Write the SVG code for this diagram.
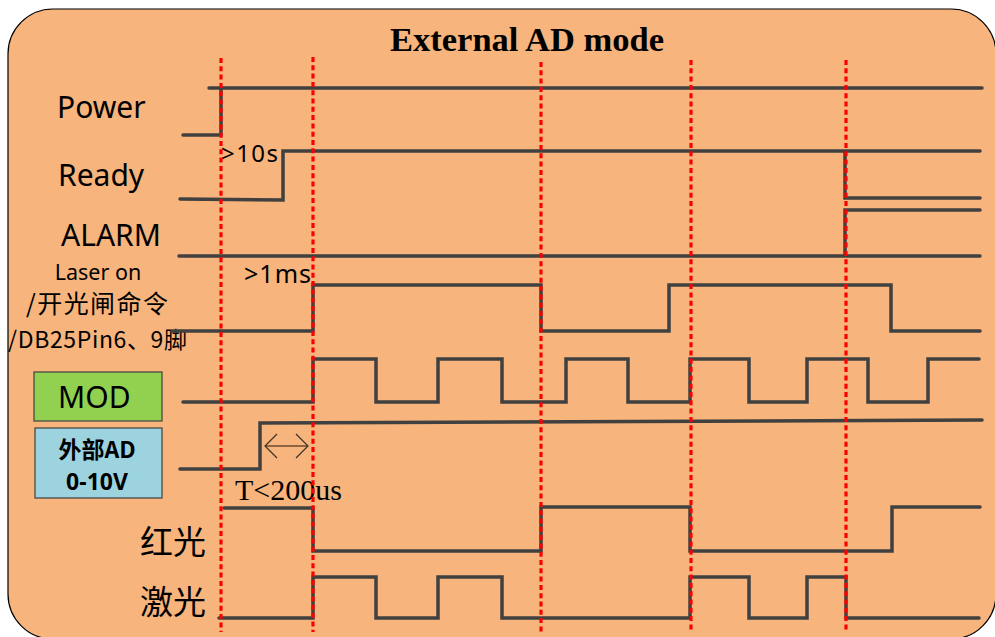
<svg xmlns="http://www.w3.org/2000/svg" width="995" height="637" viewBox="0 0 995 637">
<style>
.sig{fill:none;stroke:#404040;stroke-width:3.5;stroke-linecap:round;stroke-linejoin:miter}
.guide{stroke:#FF0000;stroke-width:3.2;stroke-dasharray:5 3.3}
.lbl{font-family:"Noto Sans","Open Sans",sans-serif;fill:#000}
.cjk{font-family:"Noto Sans CJK SC","Noto Sans",sans-serif;fill:#000}
.box{stroke:#404040;stroke-width:1.2}
</style>
<rect x="8" y="9" width="988" height="630" rx="45" ry="45" fill="#F7B47C" stroke="#000" stroke-width="1.2"/>
<text x="390" y="51" font-family="Liberation Serif,serif" font-weight="bold" font-size="34.5" fill="#000">External AD mode</text>

<g id="labels">
  <text class="lbl" x="57" y="118" font-size="30">Power</text>
  <text class="lbl" x="58" y="186" font-size="30">Ready</text>
  <text class="lbl" x="61" y="246" font-size="30">ALARM</text>
  <text class="lbl" x="98" y="280" font-size="21.5" text-anchor="middle">Laser on</text>
  <text class="cjk" x="26" y="313" font-size="25" textLength="142">/开光闸命令</text>
  <text class="cjk" x="8" y="348" font-size="23" textLength="179">/DB25Pin6、9脚</text>
  <text class="cjk" x="140" y="554" font-size="33">红光</text>
  <text class="cjk" x="140" y="614" font-size="33">激光</text>
</g>

<g id="mod-box">
  <rect class="box" x="34" y="372" width="128" height="49" fill="#92D050"/>
  <text class="lbl" x="58" y="408" font-size="30">MOD</text>
</g>
<g id="ad-box">
  <rect class="box" x="35" y="428" width="127" height="70" fill="#9DD3DF"/>
  <text class="cjk" x="97" y="458" font-size="23" font-weight="bold" text-anchor="middle">外部AD</text>
  <text class="lbl" x="97" y="490" font-size="23" font-weight="bold" text-anchor="middle">0-10V</text>
</g>

<g id="signals">
  <g id="power"><path class="sig" d="M183,135 H221 V88 M209,88 H982"/></g>
  <g id="ready"><path class="sig" d="M180,199 L283,200 V151 H980 M845,151 V198 H980"/></g>
  <g id="alarm"><path class="sig" d="M179,256 H980 M845,256 V210 H980"/></g>
  <g id="laser-on"><path class="sig" d="M172,331 H313 V285 H541 V331 H669 V285 H891 V331 H980"/></g>
  <g id="mod"><path class="sig" d="M183,402 H313 V359 H376 V402 H438 V359 H502 V402 H566 V359 H628 V402 H690 V359 H749 V402 H807 V359 H868 V402 H928 V359 H979"/></g>
  <g id="ext-ad"><path class="sig" d="M180,469 H260 V423 L982,420"/></g>
  <g id="red-light"><path class="sig" d="M224,508 H313 V551 H541 V507 H690 V551 H892 V507 H980"/></g>
  <g id="laser-light"><path class="sig" d="M219,618 H313 V577 H376 V618 H438 V577 H502 V618 H690 V577 H749 V618 H807 V577 H846 V618 H979"/></g>
</g>

<g id="annotations">
  <text class="lbl" x="221" y="162" font-size="24" textLength="57">&gt;10s</text>
  <text class="lbl" x="244" y="283" font-size="25" textLength="67">&gt;1ms</text>
  <path d="M265,446 H308" stroke="#6B4A30" stroke-width="1.5" fill="none"/>
  <path d="M277,434 L265,446 L277,458 M296,434 L308,446 L296,458" stroke="#3A3028" stroke-width="1.2" fill="none"/>
  <text x="235" y="500" font-family="Liberation Serif,serif" font-size="30" fill="#000">T&lt;200us</text>
</g>

<g id="guides">
  <line class="guide" x1="221" y1="58" x2="221" y2="632"/>
  <line class="guide" x1="313" y1="57" x2="313" y2="632"/>
  <line class="guide" x1="541" y1="62" x2="541" y2="632"/>
  <line class="guide" x1="691" y1="60" x2="691" y2="632"/>
  <line class="guide" x1="846" y1="60" x2="846" y2="632"/>
</g>
</svg>
